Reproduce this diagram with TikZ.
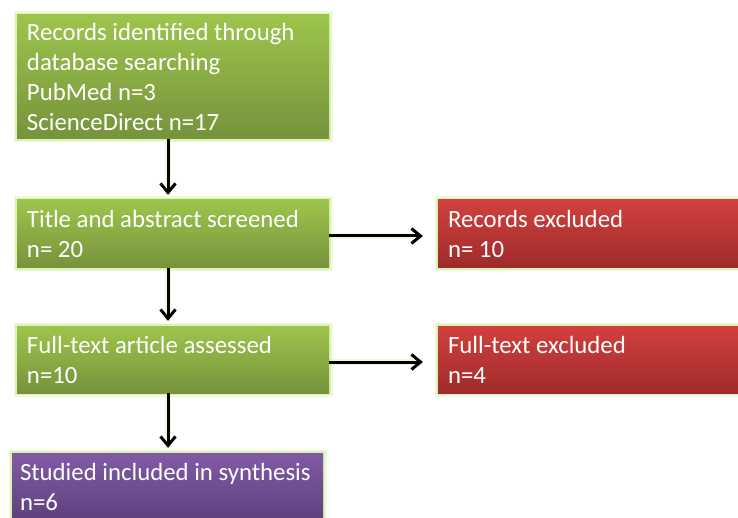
\documentclass[tikz,border=0pt]{standalone}
\usepackage{fontspec}
\setmainfont{Carlito}
\usetikzlibrary{arrows.meta}
\definecolor{greentop}{RGB}{157,197,76}
\definecolor{greenbot}{RGB}{118,146,60}
\definecolor{redtop}{RGB}{209,64,61}
\definecolor{redbot}{RGB}{158,43,43}
\definecolor{purpletop}{RGB}{129,91,166}
\definecolor{purplebot}{RGB}{93,64,124}
\definecolor{glowgreen}{RGB}{205,238,150}

\begin{document}
\begin{tikzpicture}[
    x=1pt, y=-1pt,
    box/.style={
        rectangle, inner ysep=0pt, inner xsep=10pt, text=white, align=flush left,
        font=\fontsize{24.8}{30}\selectfont,
        minimum height=68pt,
        preaction={draw=glowgreen, line width=7pt, opacity=.3},
        preaction={draw=glowgreen, line width=3.5pt, opacity=.6}
    },
    greenbox/.style={box, top color=greentop, bottom color=greenbot,
        minimum width=312pt, text width=292pt},
    redbox/.style={box, top color=redtop, bottom color=redbot,
        minimum width=312pt, text width=292pt},
    purplebox/.style={box, top color=purpletop, bottom color=purplebot,
        inner xsep=8pt, minimum width=311pt, text width=295pt},
    arrow/.style={
        -{Straight Barb[length=9pt, width=15pt, line width=3pt]},
        line width=3pt,
        draw=black,
        preaction={draw=glowgreen, line width=6pt, opacity=.35, -}
    }
]
\useasboundingbox (0,0) rectangle (738,518);

% =================== Boxes ===================
\node[greenbox, minimum height=124pt] (records) at (173,77)
    {Records identified through\\database searching\\PubMed n=3\\ScienceDirect n=17};
\node[greenbox] (screened) at (173,234)
    {Title and abstract screened\\n= 20};
\node[redbox] (excluded) at (594,234)
    {Records excluded\\n= 10};
\node[greenbox, minimum height=67pt] (assessed) at (173,359.5)
    {Full-text article assessed\\n=10};
\node[redbox, minimum height=67pt] (ftexcluded) at (594,359.5)
    {Full-text excluded\\n=4};
\node[purplebox] (included) at (167.5,487)
    {Studied included in synthesis\\n=6};

% =================== Arrows ===================
\draw[arrow, shorten >=5pt] ([xshift=-5pt]records.south) -- ([xshift=-5pt]screened.north);
\draw[arrow, shorten >=15pt] ([yshift=-2pt]screened.east) -- ([yshift=-2pt]excluded.west);
\draw[arrow, shorten >=5pt] ([xshift=-5pt]screened.south) -- ([xshift=-5pt]assessed.north);
\draw[arrow, shorten >=15pt] ([yshift=-2.5pt]assessed.east) -- ([yshift=-2.5pt]ftexcluded.west);
\draw[arrow, shorten >=5pt] ([xshift=-5pt]assessed.south) -- ([xshift=0.5pt]included.north);

\end{tikzpicture}
\end{document}
